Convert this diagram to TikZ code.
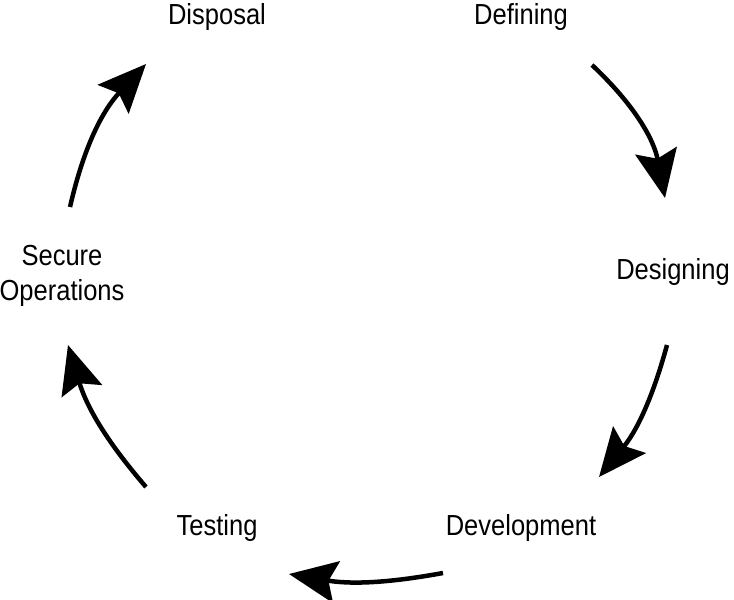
\documentclass[tikz,border=0pt]{standalone}
\usepackage{fontspec}
\setmainfont{Liberation Sans}[FakeStretch=0.88]
\usetikzlibrary{arrows.meta}
\begin{document}
\begin{tikzpicture}[x=1pt,y=-1pt,
  lbl/.style={font=\fontsize{29}{35}\selectfont, inner sep=0pt, align=center},
  cyc/.style={line width=4.5pt, -{Stealth[length=48pt,width=42pt,inset=8pt]}}]
\useasboundingbox (0,0) rectangle (734,600);
\node[lbl] (disp) at (217,17) {Disposal};
\node[lbl] (def) at (521,17) {Defining};
\node[lbl] (des) at (673,272) {Designing};
\node[lbl] (dev) at (521,528) {Development};
\node[lbl] (test) at (217,528) {Testing};
\node[lbl] (sec) at (62,276) {Secure\\Operations};
\coordinate (a1) at (592,65);  \coordinate (b1) at (665,198);
\coordinate (a2) at (667,345); \coordinate (b2) at (599,477);
\coordinate (a3) at (443,573); \coordinate (b3) at (289,574);
\coordinate (a4) at (146,487); \coordinate (b4) at (68,345);
\coordinate (a5) at (70,207);  \coordinate (b5) at (146,64);
\draw[cyc] (a1) to[bend left=18] (b1);
\draw[cyc] (a2) to[bend left=12] (b2);
\draw[cyc] (a3) to[bend left=10] (b3);
\draw[cyc] (a4) to[bend left=12] (b4);
\draw[cyc] (a5) to[bend left=15] (b5);
\end{tikzpicture}
\end{document}
